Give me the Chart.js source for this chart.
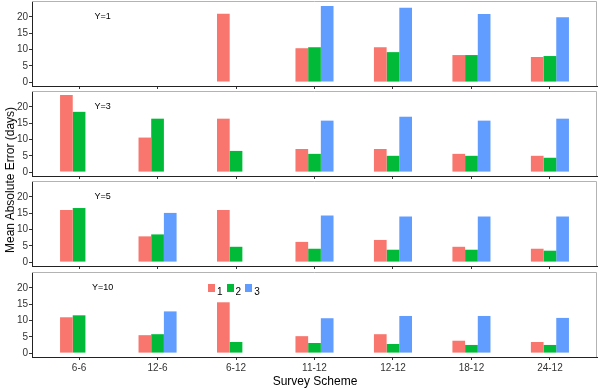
<!DOCTYPE html>
<html>
<head>
<meta charset="utf-8">
<script src="https://cdn.jsdelivr.net/npm/chart.js@4.4.1/dist/chart.umd.min.js"></script>
<style>
  body { margin: 0; background: #fff; }
  #wrap { position: relative; width: 600px; height: 388px; font-family: "Liberation Sans", Arial, sans-serif; }
  canvas { position: absolute; left: 0; }
  .ytitle { position: absolute; left: 10px; top: 180px; transform: translate(-50%, -50%) rotate(-90deg); font-size: 12px; color: #000; white-space: nowrap; }
  .xtitle { position: absolute; left: 315px; top: 381px; transform: translate(-50%, -50%); font-size: 12px; color: #000; white-space: nowrap; }
  .legend { position: absolute; left: 208px; top: 283px; font-size: 10px; color: #000; display: flex; align-items: flex-start; }
  .legend span.box { display: inline-block; width: 7px; height: 8px; margin-top: 1px; }
  .legend span.lab { display: inline-block; margin: 3px 4px 0 2px; }
</style>
</head>
<body>
<div id="wrap">
  <canvas id="p0" width="600" height="89" style="top:1px"></canvas>
  <canvas id="p1" width="600" height="89" style="top:91px"></canvas>
  <canvas id="p2" width="600" height="89" style="top:181px"></canvas>
  <canvas id="p3" width="600" height="116" style="top:272px"></canvas>
  <div class="ytitle">Mean Absolute Error (days)</div>
  <div class="xtitle">Survey Scheme</div>
  <div class="legend" id="legend"></div>
</div>
<script>
// Survey schemes on the x axis
var schemes = ['6-6', '12-6', '6-12', '11-12', '12-12', '18-12', '24-12'];
var methods = ['1', '2', '3'];
var panelLabels = ['Y=1', 'Y=3', 'Y=5', 'Y=10'];
var yTicks = [0, 5, 10, 15, 20];

// Values (null = no bar)
var y1m1 = [null, null, 21.0, 10.4, 10.7, 8.3, 7.7];
var y1m2 = [null, null, null, 10.7, 9.2, 8.3, 8.0];
var y1m3 = [null, null, null, 23.4, 22.8, 20.9, 19.9];

var y3m1 = [23.7, 10.6, 16.4, 7.1, 7.1, 5.6, 5.0];
var y3m2 = [18.5, 16.4, 6.5, 5.6, 5.0, 5.0, 4.4];
var y3m3 = [null, null, null, 15.8, 17.0, 15.8, 16.4];

var y5m1 = [16.0, 7.9, 16.0, 6.2, 6.8, 4.7, 4.1];
var y5m2 = [16.6, 8.5, 4.7, 4.1, 3.8, 3.8, 3.5];
var y5m3 = [null, 15.1, null, 14.3, 14.0, 14.0, 14.0];

var y10m1 = [11.0, 5.5, 15.6, 5.2, 5.8, 3.8, 3.4];
var y10m2 = [11.6, 5.8, 3.4, 3.1, 2.8, 2.5, 2.5];
var y10m3 = [null, 12.8, null, 10.7, 11.4, 11.4, 10.8];

var panels = [
  [y1m1, y1m2, y1m3],
  [y3m1, y3m2, y3m3],
  [y5m1, y5m2, y5m3],
  [y10m1, y10m2, y10m3]
];

var colors = ['#F8766D', '#00BA38', '#619CFF'];
var fontFamily = '"Liberation Sans", Arial, sans-serif';

// Build the HTML legend
var legend = document.getElementById('legend');
methods.forEach(function (m, i) {
  var b = document.createElement('span');
  b.className = 'box';
  b.style.background = colors[i];
  var l = document.createElement('span');
  l.className = 'lab';
  l.textContent = m;
  legend.appendChild(b);
  legend.appendChild(l);
});

// Gray border on top/right of the panel, plus the panel label
var panelDecor = {
  id: 'panelDecor',
  beforeDatasetsDraw: function (chart, args, opts) {
    var a = chart.chartArea;
    var c = chart.ctx;
    c.save();
    c.strokeStyle = '#b3b3b3';
    c.lineWidth = 1;
    c.beginPath();
    c.moveTo(a.left, a.top + 0.5);
    c.lineTo(a.right - 0.5, a.top + 0.5);
    c.lineTo(a.right - 0.5, a.bottom);
    c.stroke();
    c.restore();
  },
  afterDatasetsDraw: function (chart, args, opts) {
    var c = chart.ctx;
    c.save();
    c.font = '9px ' + fontFamily;
    c.fillStyle = '#000';
    c.textAlign = 'center';
    c.textBaseline = 'middle';
    c.fillText(opts.text, chart.scales.x.getPixelForValue(0.3), chart.scales.y.getPixelForValue(20));
    c.restore();
  }
};

function makePanel(idx) {
  var showLabels = idx === panels.length - 1;
  var datasets = panels[idx].map(function (vals, i) {
    return {
      label: methods[i],
      backgroundColor: colors[i],
      borderWidth: 0,
      data: vals.map(function (v, j) { return { x: j, y: v }; }),
      categoryPercentage: 0.485,
      barPercentage: 1.0
    };
  });

  return new Chart(document.getElementById('p' + idx), {
    type: 'bar',
    data: { datasets: datasets },
    plugins: [panelDecor],
    options: {
      responsive: false,
      animation: false,
      devicePixelRatio: 1,
      layout: { padding: { left: 0, right: 3, top: 0, bottom: 0 } },
      plugins: {
        legend: { display: false },
        tooltip: { enabled: false },
        panelDecor: { text: panelLabels[idx] }
      },
      scales: {
        x: {
          type: 'linear',
          min: -0.6,
          max: 6.6,
          offset: false,
          grid: { display: true, offset: false, drawOnChartArea: false, drawTicks: true, tickLength: 3, color: '#333' },
          border: { display: true, color: '#222', width: 1 },
          ticks: {
            display: showLabels,
            padding: 2,
            color: '#333',
            font: { family: fontFamily, size: 10 },
            callback: function (v) { return schemes[v]; }
          },
          afterBuildTicks: function (scale) {
            scale.ticks = schemes.map(function (s, i) { return { value: i }; });
          },
          afterFit: function (scale) {
            scale.height = showLabels ? 31 : 4;
            scale.paddingLeft = 0;
            scale.paddingRight = 0;
          }
        },
        y: {
          min: -1.2,
          max: 24.9,
          grid: { display: true, drawOnChartArea: false, drawTicks: true, tickLength: 3, color: '#333' },
          border: { display: true, color: '#222', width: 1 },
          ticks: {
            padding: 1,
            color: '#333',
            font: { family: fontFamily, size: 10 }
          },
          afterBuildTicks: function (scale) {
            scale.ticks = yTicks.map(function (v) { return { value: v }; });
          },
          afterFit: function (scale) {
            scale.width = 32;
            scale.paddingTop = 0;
            scale.paddingBottom = 0;
          }
        }
      }
    }
  });
}

for (var i = 0; i < panels.length; i++) {
  makePanel(i);
}
</script>
</body>
</html>
